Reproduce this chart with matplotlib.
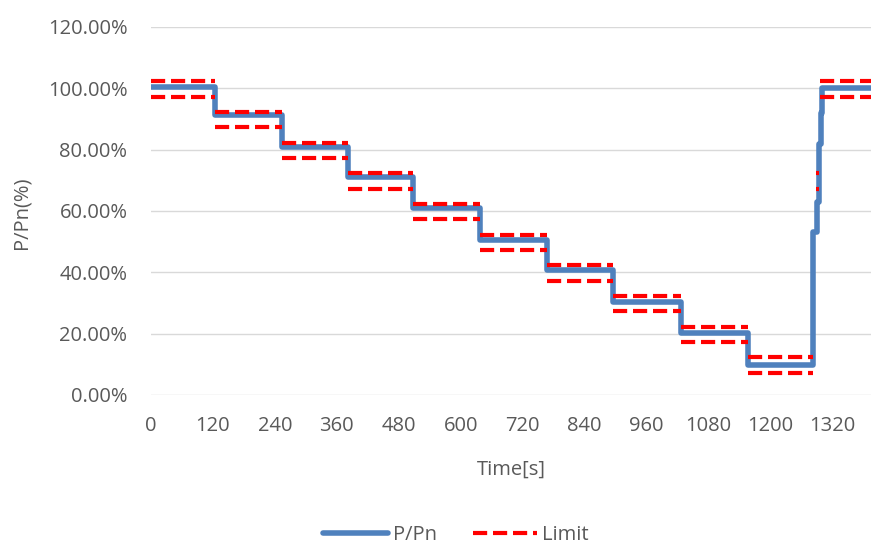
import numpy as np
import matplotlib
matplotlib.use("Agg")
import matplotlib.pyplot as plt
from matplotlib.ticker import FuncFormatter

# ---- data ----
# measured P/Pn (%) as step levels (steps-post)
pn_times = [0, 124, 254, 382, 508, 638, 767, 895, 1027, 1157, 1283, 1291, 1295, 1298, 1300, 1395]
pn_values = [100.4, 91.3, 80.8, 71.2, 60.9, 50.5, 40.6, 30.4, 20.3, 9.8, 53, 63, 82, 92, 100, 100]

# limit segments: start, end, target
lim_start = [0, 124, 254, 382, 508, 638, 767, 895, 1027, 1157, 1289, 1296]
lim_end = [124, 254, 382, 508, 638, 767, 895, 1027, 1157, 1283, 1294, 1395]
lim_target = [100, 90, 80, 70, 60, 50, 40, 30, 20, 10, 70, 100]
lim_upper_off = 2.3
lim_lower_off = -2.7

x_ticks = [0, 120, 240, 360, 480, 600, 720, 840, 960, 1080, 1200, 1320]
y_ticks = [0, 20, 40, 60, 80, 100, 120]

# ---- build limit polylines with gaps ----
lt, lu, ll = [], [], []
for s, e, t in zip(lim_start, lim_end, lim_target):
    lt += [s, e, np.nan]
    lu += [t + lim_upper_off, t + lim_upper_off, np.nan]
    ll += [t + lim_lower_off, t + lim_lower_off, np.nan]

FONT = "Open Sans"
TXT = "#595959"
plt.rcParams['font.family'] = [FONT, 'DejaVu Sans']

fig = plt.figure(figsize=(8.71, 5.47), dpi=100)
ax = fig.add_axes([151/871, (547-395)/547, 1 - 151/871, (395-27)/547])

blue = "#4F81BD"
red = "#FF0000"
ax.plot(pn_times, pn_values, drawstyle="steps-post", color=blue, lw=4.0,
        solid_joinstyle="round", solid_capstyle="round", zorder=3, label="P/Pn")
ax.plot(lt, lu, color=red, lw=3.0, dashes=(3.4, 1.4), zorder=4, label="Limit")
ax.plot(lt, ll, color=red, lw=3.0, dashes=(3.4, 1.4), zorder=4)

ax.set_xlim(0, 1395)
ax.set_ylim(0, 120)
ax.set_xticks(x_ticks)
ax.set_yticks(y_ticks)
ax.yaxis.set_major_formatter(FuncFormatter(lambda v, p: f"{v:.2f}%"))
ax.grid(axis="y", color="#D9D9D9", lw=1.0, zorder=0)
for s in ax.spines.values():
    s.set_visible(False)
ax.tick_params(axis="both", length=0, colors=TXT, labelsize=14.5)
ax.tick_params(axis="y", pad=17)
ax.tick_params(axis="x", pad=15)

ax.set_xlabel("Time[s]", fontsize=14.5, color=TXT, labelpad=17)
ax.set_ylabel("P/Pn(%)", fontsize=14.5, color=TXT)
ax.yaxis.set_label_coords(32/871, (547-213)/547, transform=fig.transFigure)

leg = fig.legend(loc="center", bbox_to_anchor=(456/871, (547-535)/547),
                 ncol=2, frameon=False, fontsize=14.5, handlelength=3.2,
                 handletextpad=0.25, columnspacing=1.8)
for t in leg.get_texts():
    t.set_color(TXT)

fig.savefig("out.png", dpi=100)
